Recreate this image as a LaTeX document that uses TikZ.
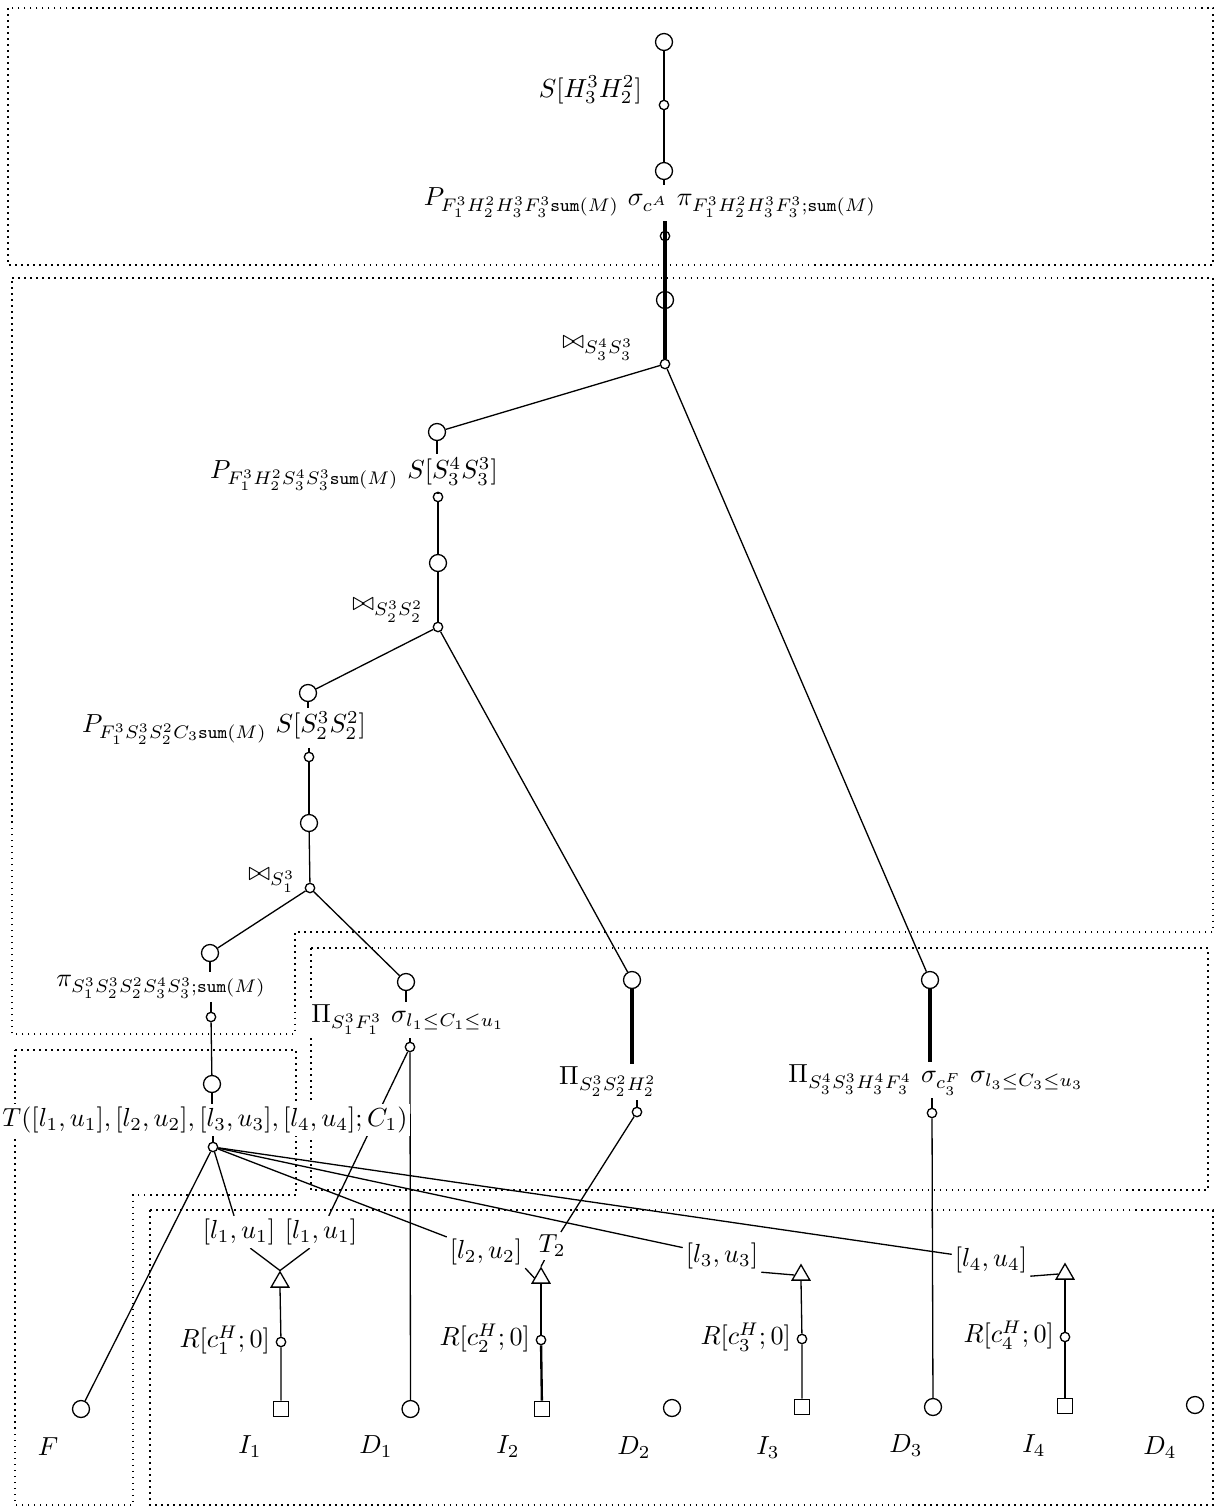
\documentclass[tikz,border=0pt]{standalone}
\usetikzlibrary{shapes.geometric}
\pgfdeclarelayer{bg}
\pgfsetlayers{bg,main}
\begin{document}
\begin{tikzpicture}[x=0.383pt,y=-0.383pt,
  big/.style={circle,draw,inner sep=0pt,minimum size=6.5pt,line width=0.5pt},
  sm/.style={circle,draw,inner sep=0pt,minimum size=3.6pt,line width=0.5pt},
  tri/.style={regular polygon,regular polygon sides=3,draw,inner sep=0pt,minimum size=7.8pt,line width=0.5pt},
  sq/.style={rectangle,draw,inner sep=0pt,minimum size=5.9pt,line width=0.5pt},
  lab/.style={inner sep=1pt,fill=white},
  edge/.style={line width=0.5pt},
  mid/.style={line width=0.9pt},
  fat/.style={line width=1.5pt},
  box/.style={line width=0.6pt,dash pattern=on 0.6pt off 1.7pt}]
\useasboundingbox (0,0) rectangle (1222,1508);

% ---------- top chain ----------
\node[big] (a1) at (664,42) {};
\node[lab,anchor=east] (la1) at (645,90) {$S[H_3^3H_2^2]$};
\node[sm] (a2) at (664,105) {};
\node[big] (a3) at (664,171) {};
\node[lab] (la3) at (650,203) {$P_{F_1^3H_2^2H_3^3F_3^3\mathtt{sum}(M)}\ \sigma_{c^A}\ \pi_{F_1^3H_2^2H_3^3F_3^3;\mathtt{sum}(M)}$};
\node[sm] (a4) at (665,236) {};
\node[big] (a5) at (665,300) {};
\node[lab] (lj1) at (598,348) {$\bowtie_{S_3^4S_3^3}$};
\node[sm] (j1) at (665,364) {};

% ---------- second chain ----------
\node[big] (b1) at (437,432) {};
\node[lab] (lb1) at (354,474) {$P_{F_1^3H_2^2S_3^4S_3^3\mathtt{sum}(M)}\ S[S_3^4S_3^3]$};
\node[sm] (b2) at (438,497) {};
\node[big] (b3) at (438,563) {};
\node[lab] (lj2) at (388,610) {$\bowtie_{S_2^3S_2^2}$};
\node[sm] (j2) at (438,627) {};

% ---------- third chain ----------
\node[big] (c1) at (308,693) {};
\node[lab] (lc1) at (224,728) {$P_{F_1^3S_2^3S_2^2C_3\mathtt{sum}(M)}\ S[S_2^3S_2^2]$};
\node[sm] (c2) at (309,757) {};
\node[big] (c3) at (309,823) {};
\node[lab] (lj3) at (272,880) {$\bowtie_{S_1^3}$};
\node[sm] (j3) at (310,888) {};

% ---------- left chain ----------
\node[big] (d1) at (210,953) {};
\node[lab] (ld1) at (161,987) {$\pi_{S_1^3S_2^3S_2^2S_3^4S_3^3;\mathtt{sum}(M)}$};
\node[sm] (d2) at (211,1017) {};
\node[big] (d3) at (212,1084) {};
\node[lab] (lT) at (205,1120) {$T([l_1,u_1],[l_2,u_2],[l_3,u_3],[l_4,u_4];C_1)$};
\node[sm] (T) at (213,1147) {};

% ---------- sigma chains ----------
\node[big] (e1) at (406,982) {};
\node[lab] (le1) at (408,1020) {$\Pi_{S_1^3F_1^3}\ \sigma_{l_1\le C_1\le u_1}$};
\node[sm] (e2) at (410,1047) {};

\node[big] (f1) at (632,980) {};
\node[lab] (lf1) at (608,1082) {$\Pi_{S_2^3S_2^2H_2^2}$};
\node[sm] (f2) at (637,1112) {};

\node[big] (g1) at (930,980) {};
\node[lab] (lg1) at (936,1080) {$\Pi_{S_3^4S_3^3H_3^4F_3^4}\ \sigma_{c_3^F}\ \sigma_{l_3\le C_3\le u_3}$};
\node[sm] (g2) at (932,1113) {};

% ---------- interval labels ----------
\node[lab] (l1a) at (239,1232) {$[l_1,u_1]$};
\node[lab] (l1b) at (321,1232) {$[l_1,u_1]$};
\node[lab] (l2) at (486,1252) {$[l_2,u_2]$};
\node[lab] (t2) at (552,1246) {$T_2$};
\node[lab] (l3) at (722,1256) {$[l_3,u_3]$};
\node[lab] (l4) at (991,1260) {$[l_4,u_4]$};

% ---------- index columns ----------
\node[tri] (tri1) at (280,1282) {};
\node[tri] (tri2) at (541,1278) {};
\node[tri] (tri3) at (801,1275) {};
\node[tri] (tri4) at (1065,1274) {};
\node[sm] (r1) at (281,1342) {};
\node[sm] (r2) at (541,1340) {};
\node[sm] (r3) at (802,1339) {};
\node[sm] (r4) at (1065,1337) {};
\node[lab,anchor=east] (lr1) at (273,1340) {$R[c_1^H;0]$};
\node[lab,anchor=east] (lr2) at (533,1338) {$R[c_2^H;0]$};
\node[lab,anchor=east] (lr3) at (794,1337) {$R[c_3^H;0]$};
\node[lab,anchor=east] (lr4) at (1057,1335) {$R[c_4^H;0]$};

% ---------- leaves ----------
\node[big] (F) at (81,1409) {};
\node[sq] (s1) at (281,1409) {};
\node[big] (D1) at (410.5,1409) {};
\node[sq] (s2) at (542,1409) {};
\node[big] (D2) at (672,1408) {};
\node[sq] (s3) at (802,1407) {};
\node[big] (D3) at (933,1407) {};
\node[sq] (s4) at (1065,1406) {};
\node[big] (D4) at (1195,1405) {};
\node (nF) at (48,1447) {$F$};
\node (nI1) at (250,1447) {$I_1$};
\node (nD1) at (376,1447) {$D_1$};
\node (nI2) at (508,1447) {$I_2$};
\node (nD2) at (634,1448) {$D_2$};
\node (nI3) at (768,1448) {$I_3$};
\node (nD3) at (906,1446) {$D_3$};
\node (nI4) at (1034,1446) {$I_4$};
\node (nD4) at (1160,1448) {$D_4$};

\begin{pgfonlayer}{bg}
% boxes
\draw[box] (8,8) rectangle (1213,265);
\draw[box] (12,278) -- (1213,278) -- (1213,932) -- (295,932) -- (295,1034) -- (12,1034) -- cycle;
\draw[box] (311,948) rectangle (1208,1190);
\draw[box] (15,1050) -- (296,1050) -- (296,1195) -- (133,1195) -- (133,1505) -- (15,1505) -- cycle;
\draw[box] (150,1210) rectangle (1213,1505);

% top chain
\draw[edge] (a1) -- (a2) -- (a3);
\draw[edge] (a3.south) -- (a3.south |- la3.north);
\draw[fat] (a4 |- la3.south) -- (j1.north);
% joins
\draw[edge] (j1) -- (b1);
\draw[edge] (j1) -- (g1);
\draw[edge] (b1.south) -- (b1.south |- lb1.north);
\draw[edge] (b2 |- lb1.south) -- (b2.north);
\draw[mid] (b2) -- (b3);
\draw[edge] (b3) -- (j2);
\draw[edge] (j2) -- (c1);
\draw[edge] (j2) -- (f1);
\draw[edge] (c1.south) -- (c1.south |- lc1.north);
\draw[edge] (c2 |- lc1.south) -- (c2.north);
\draw[mid] (c2) -- (c3);
\draw[edge] (c3) -- (j3);
\draw[edge] (j3) -- (d1);
\draw[edge] (j3) -- (e1);
% left chain
\draw[edge] (d1.south) -- (d1.south |- ld1.north);
\draw[edge] (d2 |- ld1.south) -- (d2.north);
\draw[edge] (d2) -- (d3);
\draw[edge] (d3.south) -- (d3.south |- lT.north);
\draw[edge] (T |- lT.south) -- (T.north);
% sigma chains
\draw[edge] (e1.south) -- (e1.south |- le1.north);
\draw[edge] (e2 |- le1.south) -- (e2.north);
\draw[fat] (f1.south) -- (f1.south |- lf1.north);
\draw[edge] (f2 |- lf1.south) -- (f2.north);
\draw[fat] (g1.south) -- (g1.south |- lg1.north);
\draw[edge] (g2 |- lg1.south) -- (g2.north);
% from T
\draw[edge] (T) -- (F);
\draw[edge] (T) -- (l1a);
\draw[edge] (T) -- (l2);
\draw[edge] (T) -- (l3);
\draw[edge] (T) -- (l4);
% to indexes
\draw[edge] (l1a.-55) -- (tri1.north);
\draw[edge] (l1b.-125) -- (tri1.north);
\draw[edge] (e2) -- (l1b);
\draw[edge] (e2) -- (D1);
\draw[edge] (l2.south east) -- (tri2.west);
\draw[edge] (f2) -- (t2);
\draw[edge] (t2) -- (tri2.north);
\draw[edge] (l3.south east) -- (tri3.west);
\draw[edge] (l4.south east) -- (tri4.west);
\draw[edge] (g2) -- (D3);
\draw[edge] (tri1.south) -- (r1) -- (s1);
\draw[edge] (tri2.south) -- (r2);
\draw[mid] (r2) -- (s2);
\draw[edge] (tri3.south) -- (r3) -- (s3);
\draw[edge] (tri4.south) -- (r4) -- (s4);
\end{pgfonlayer}
\end{tikzpicture}
\end{document}
